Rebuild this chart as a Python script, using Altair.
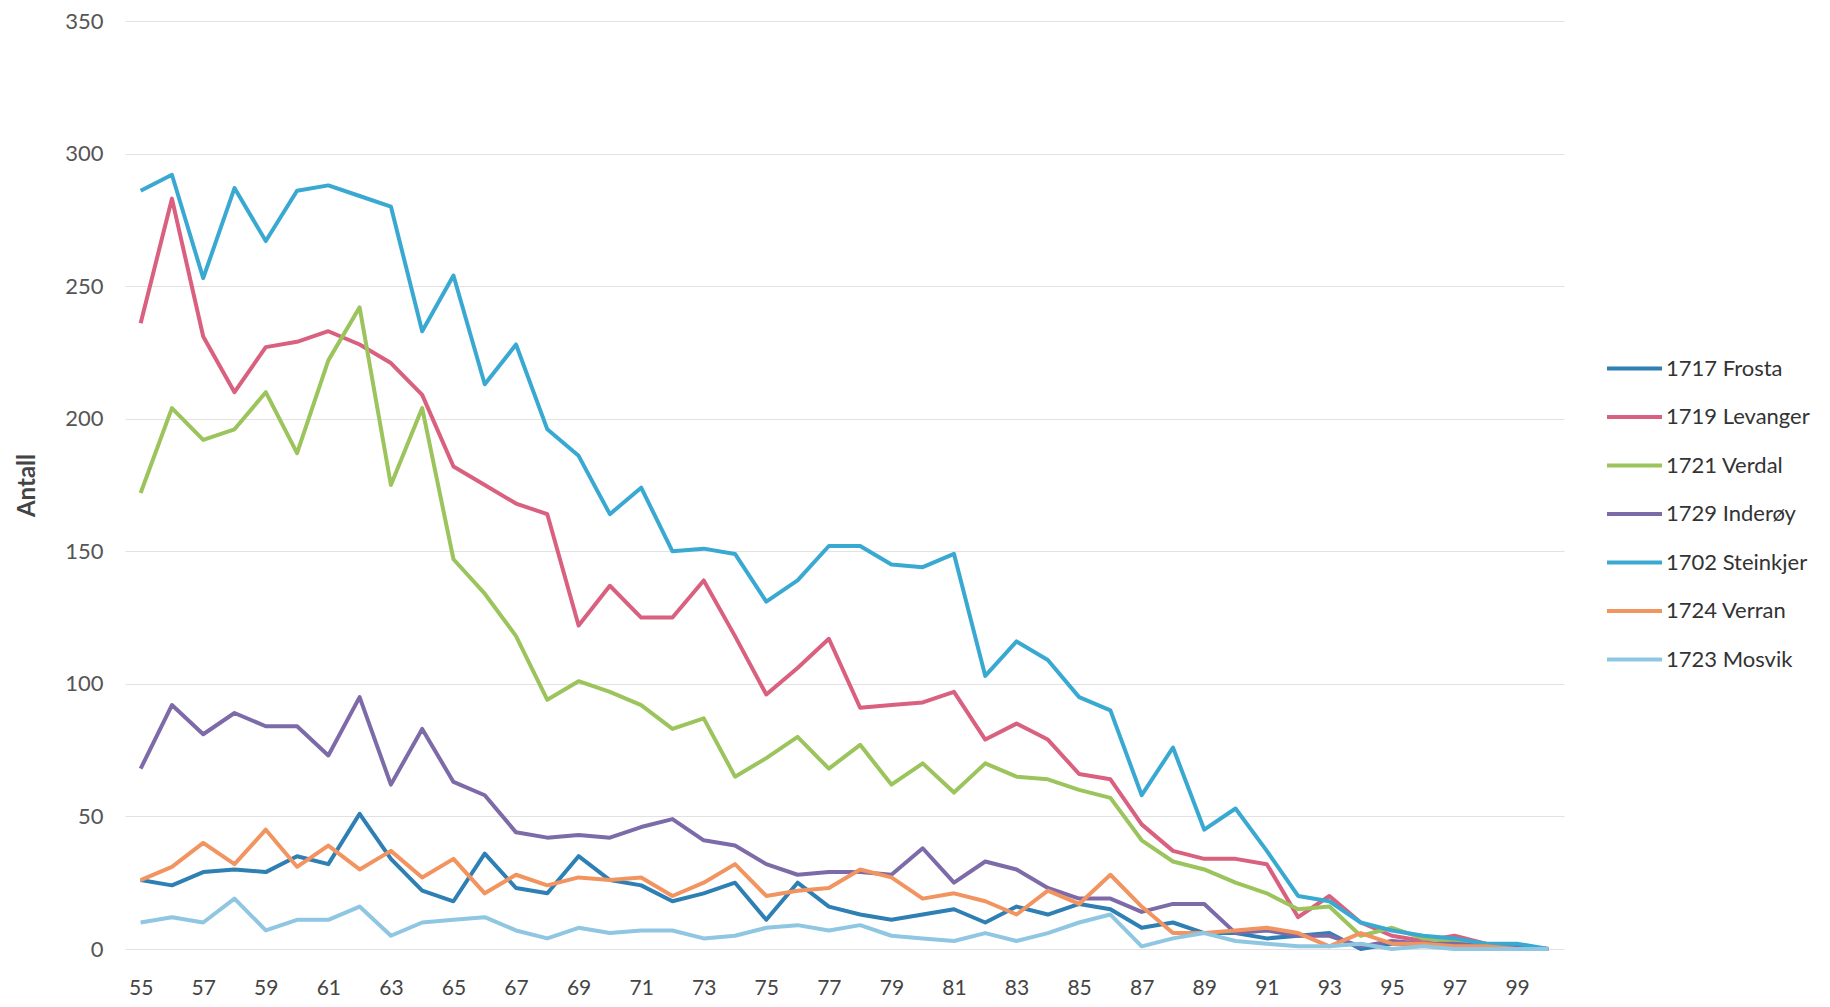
import altair as alt
import pandas as pd

years = list(range(55, 101))

series_names = ["1717 Frosta", "1719 Levanger", "1721 Verdal", "1729 Inderøy",
                "1702 Steinkjer", "1724 Verran", "1723 Mosvik"]
series_colors = ["#2e7fb4", "#d9607e", "#9cc45c", "#7d6aa8", "#3aa9d2", "#f1945f", "#8fc6e2"]

frosta = [26, 24, 29, 30, 29, 35, 32, 51, 34, 22, 18, 36, 23, 21, 35, 26, 24, 18, 21, 25,
          11, 25, 16, 13, 11, 13, 15, 10, 16, 13, 17, 15, 8, 10, 6, 6, 4, 5, 6, 0,
          2, 2, 2, 1, 0, 0]
levanger = [236, 283, 231, 210, 227, 229, 233, 228, 221, 209, 182, 175, 168, 164, 122, 137,
            125, 125, 139, 118, 96, 106, 117, 91, 92, 93, 97, 79, 85, 79, 66, 64, 47, 37,
            34, 34, 32, 12, 20, 10, 5, 3, 5, 2, 1, 0]
verdal = [172, 204, 192, 196, 210, 187, 222, 242, 175, 204, 147, 134, 118, 94, 101, 97,
          92, 83, 87, 65, 72, 80, 68, 77, 62, 70, 59, 70, 65, 64, 60, 57, 41, 33, 30, 25,
          21, 15, 16, 5, 8, 4, 3, 2, 1, 0]
inderoy = [68, 92, 81, 89, 84, 84, 73, 95, 62, 83, 63, 58, 44, 42, 43, 42, 46, 49, 41, 39,
           32, 28, 29, 29, 28, 38, 25, 33, 30, 23, 19, 19, 14, 17, 17, 6, 7, 5, 5, 1,
           3, 2, 2, 1, 1, 0]
steinkjer = [286, 292, 253, 287, 267, 286, 288, 284, 280, 233, 254, 213, 228, 196, 186, 164,
             174, 150, 151, 149, 131, 139, 152, 152, 145, 144, 149, 103, 116, 109, 95, 90,
             58, 76, 45, 53, 37, 20, 18, 10, 7, 5, 4, 2, 2, 0]
verran = [26, 31, 40, 32, 45, 31, 39, 30, 37, 27, 34, 21, 28, 24, 27, 26, 27, 20, 25, 32,
          20, 22, 23, 30, 27, 19, 21, 18, 13, 22, 17, 28, 16, 6, 6, 7, 8, 6, 1, 6,
          2, 2, 1, 1, 0, 0]
mosvik = [10, 12, 10, 19, 7, 11, 11, 16, 5, 10, 11, 12, 7, 4, 8, 6, 7, 7, 4, 5,
          8, 9, 7, 9, 5, 4, 3, 6, 3, 6, 10, 13, 1, 4, 6, 3, 2, 1, 1, 2,
          0, 1, 0, 0, 0, 0]

x_labels = list(range(55, 100, 2))
y_ticks = [0, 50, 100, 150, 200, 250, 300, 350]

all_series = [frosta, levanger, verdal, inderoy, steinkjer, verran, mosvik]
rows = []
for name, vals in zip(series_names, all_series):
    for yr, v in zip(years, vals):
        rows.append({"year": yr, "value": v, "series": name})
df = pd.DataFrame(rows)

FONT = "Lato"

chart = alt.Chart(df).mark_line(strokeWidth=4, strokeJoin="round").encode(
    x=alt.X("year:Q",
            scale=alt.Scale(domain=[54.5, 100.5], nice=False, zero=False),
            axis=alt.Axis(values=x_labels, title=None, grid=False, ticks=False, domain=False,
                          labelFontSize=21, labelColor="#444444", labelFont=FONT,
                          labelPadding=28, labelFlush=False)),
    y=alt.Y("value:Q",
            scale=alt.Scale(domain=[0, 350], nice=False),
            axis=alt.Axis(values=y_ticks, title="Antall", grid=True, gridColor="#e2e2e2",
                          gridWidth=1, ticks=False, domain=False,
                          labelFontSize=22, labelColor="#555555", labelFont=FONT,
                          labelPadding=22, titleFontSize=24, titleFont=FONT,
                          titleColor="#444444", titleFontWeight="bold", titlePadding=25)),
    color=alt.Color("series:N",
                    scale=alt.Scale(domain=series_names, range=series_colors),
                    legend=alt.Legend(title=None, orient="none", legendX=1480, legendY=318,
                                      symbolType="stroke", symbolSize=3025,
                                      symbolStrokeWidth=4, labelFontSize=22,
                                      labelFont=FONT, labelColor="#333333",
                                      labelOffset=2, rowPadding=7.5)),
    detail="series:N",
).properties(
    width=1439,
    height=928,
    autosize=alt.AutoSizeParams(type="none"),
    padding={"left": 117, "top": 13, "right": 258, "bottom": 50},
    background="white",
).configure_view(stroke=None)

chart.save("out.html", embed_options={"renderer": "svg", "actions": False})
